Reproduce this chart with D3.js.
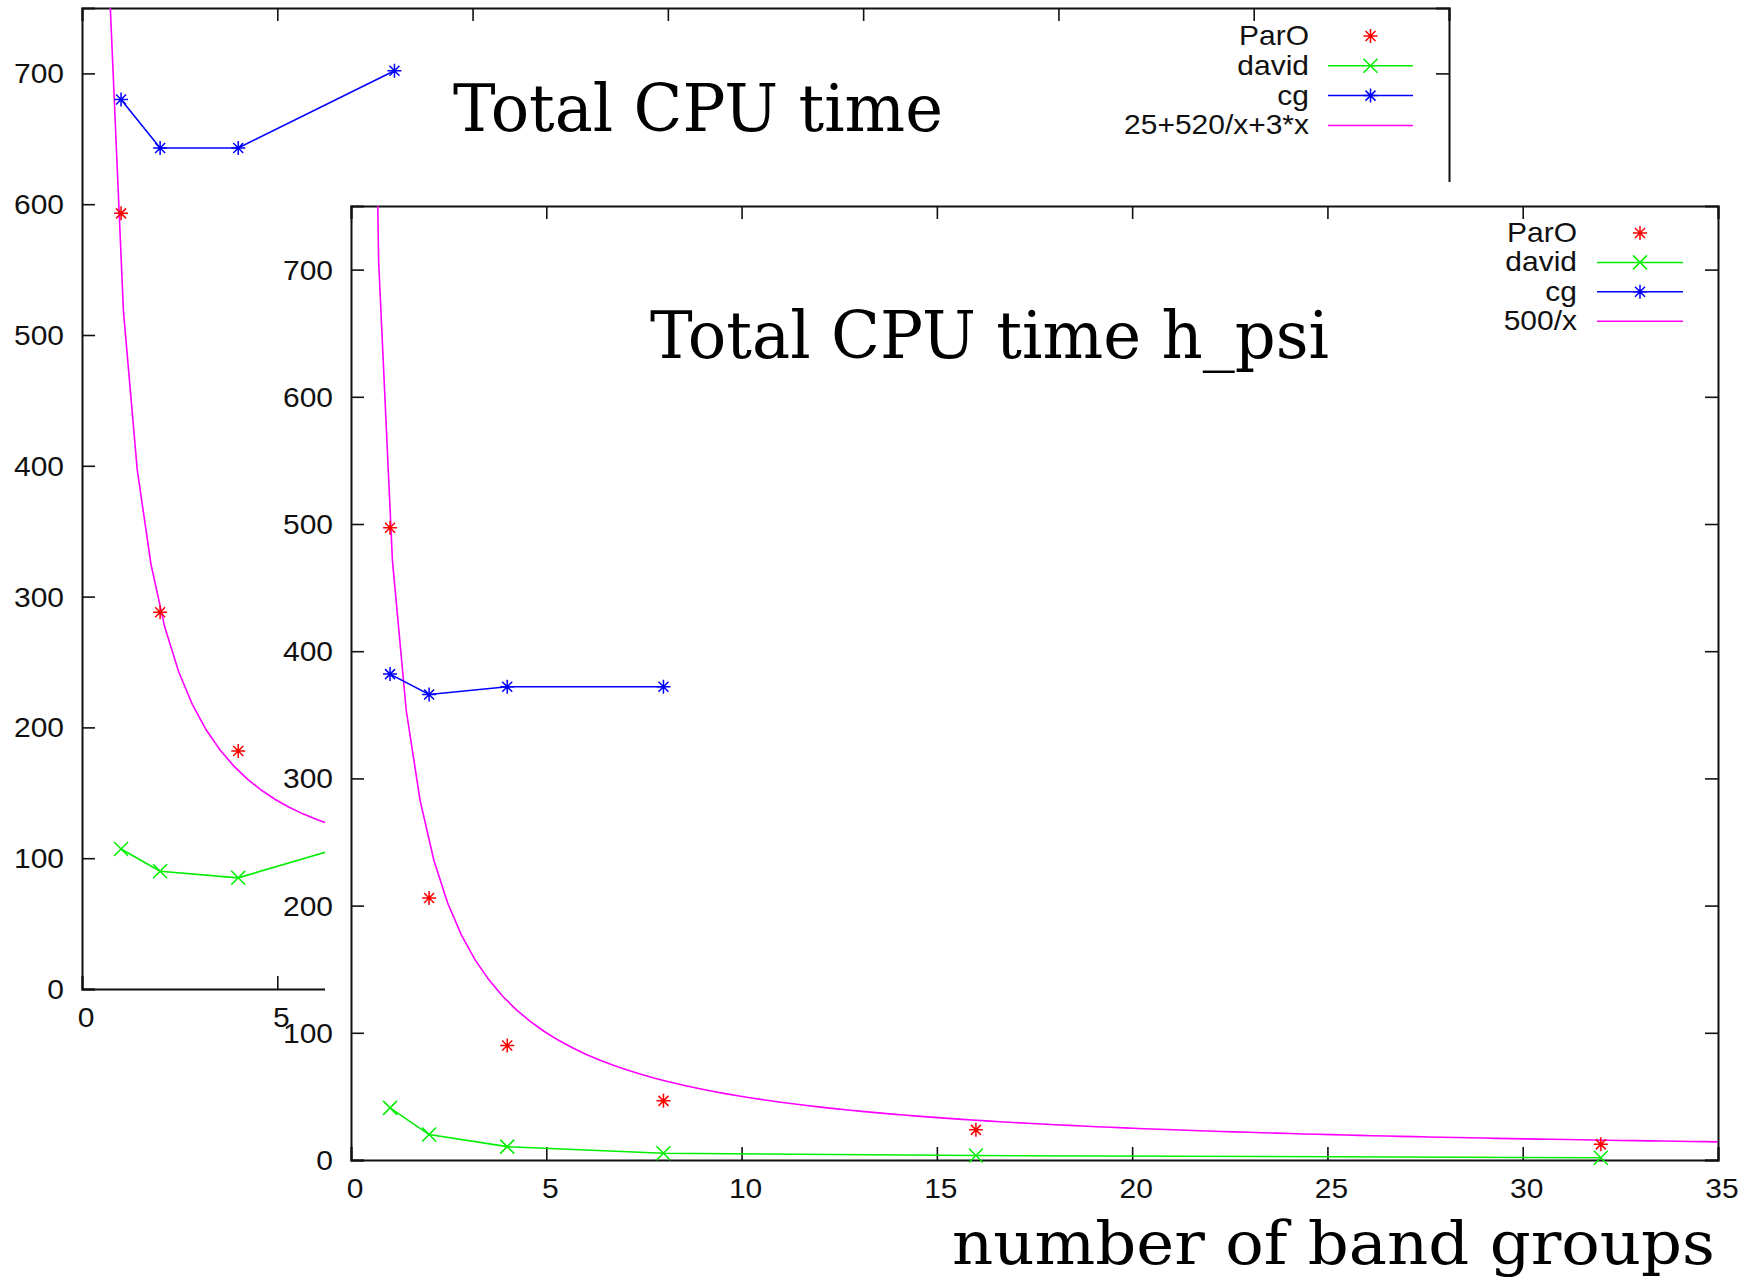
<!DOCTYPE html>
<html lang="en">
<head>
  <meta charset="UTF-8">
  <title>Total CPU time</title>
  <style>
    body{margin:0;background:#fff;}
    svg{display:block;}
    .lbl{font-family:"Liberation Sans",Arial,sans-serif;font-size:28px;fill:#111;}
    .ttl{font-family:"DejaVu Serif",serif;font-size:66px;fill:#000;}
    .xlab{font-family:"DejaVu Serif",serif;font-size:60px;fill:#000;}
  </style>
</head>
<body>
<svg width="1754" height="1284"></svg>

<script src="https://d3js.org/d3.v7.min.js"></script>
<script>
  // ticks shared by both plots
  var xTicks = [0, 5, 10, 15, 20, 25, 30, 35];
  var yTicks = [0, 100, 200, 300, 400, 500, 600, 700];

  // back plot : Total CPU time
  var bgParoX = [1, 2, 4];
  var bgParoY = [593, 288, 182];
  var bgDavidX = [1, 2, 4, 8];
  var bgDavidY = [107, 90, 85, 120];
  var bgCgX = [1, 2, 4, 8];
  var bgCgY = [680, 643, 643, 702];
  var bgLegend = ['ParO', 'david', 'cg', '25+520/x+3*x'];

  // front plot : Total CPU time h_psi
  var fgParoX = [1, 2, 4, 8, 16, 32];
  var fgParoY = [497, 206, 90, 46.5, 23.7, 12.3];
  var fgDavidX = [1, 2, 4, 8, 16, 32];
  var fgDavidY = [41, 20, 10.5, 5.3, 3.5, 1.8];
  var fgCgX = [1, 2, 4, 8];
  var fgCgY = [382, 366, 372, 372];
  var fgLegend = ['ParO', 'david', 'cg', '500/x'];

  // fitted curves, sampled like gnuplot does (100 samples over the x range)
  var samples = 100;
  var bgFit = function (x) { return 25 + 520 / x + 3 * x; };
  var fgFit = function (x) { return 500 / x; };

  var colors = {paro: '#ff0000', david: '#00ee00', cg: '#0000ff', fit: '#ff00ff'};
  var starPath = 'M-7,0H7M0,-7V7M-5,-5L5,5M-5,5L5,-5';
  var crossPath = 'M-7,-7L7,7M-7,7L7,-7';

  var svg = d3.select('svg');

  function zip(xs, ys) {
    return xs.map(function (x, i) { return {x: x, y: ys[i]}; });
  }

  // the terminal font is a bit wider than Liberation Sans
  function widen(sel) {
    sel.each(function () {
      var w = this.getComputedTextLength();
      d3.select(this).attr('textLength', w * 1.07).attr('lengthAdjust', 'spacingAndGlyphs');
    });
  }

  function drawPlot(g, id, box, fit, series, legendNames, leg) {
    var x = d3.scaleLinear().domain([0, 35]).range([box.left, box.right]);
    var y = d3.scaleLinear().domain([0, 750]).range([box.bottom, box.top]);

    g.append('clipPath').attr('id', id).append('rect')
      .attr('x', box.left).attr('y', box.top)
      .attr('width', box.right - box.left).attr('height', box.bottom - box.top);

    // axes, ticks inward and mirrored
    var tl = 13;
    g.append('g').attr('transform', `translate(0,${box.bottom})`)
      .call(d3.axisTop(x).tickValues(xTicks).tickSize(tl).tickFormat(''));
    g.append('g').attr('transform', `translate(0,${box.top})`)
      .call(d3.axisBottom(x).tickValues(xTicks).tickSize(tl).tickFormat(''));
    g.append('g').attr('transform', `translate(${box.left},0)`)
      .call(d3.axisRight(y).tickValues(yTicks).tickSize(tl).tickFormat(''));
    g.append('g').attr('transform', `translate(${box.right},0)`)
      .call(d3.axisLeft(y).tickValues(yTicks).tickSize(tl).tickFormat(''));
    g.selectAll('.domain').attr('stroke', '#111').attr('stroke-width', 2);
    g.selectAll('.tick line').attr('stroke', '#111').attr('stroke-width', 1.6);

    // tick labels
    g.append('g').selectAll('text').data(yTicks).enter().append('text')
      .attr('class', 'lbl').attr('text-anchor', 'end')
      .attr('x', box.left - 18).attr('y', function (d) { return y(d) + 10; })
      .text(function (d) { return d; })
      .call(widen);
    g.append('g').selectAll('text').data(xTicks).enter().append('text')
      .attr('class', 'lbl').attr('text-anchor', 'middle')
      .attr('x', function (d) { return x(d) + 4; }).attr('y', box.bottom + 38)
      .text(function (d) { return d; })
      .call(widen);

    var line = d3.line().x(function (d) { return x(d.x); }).y(function (d) { return y(d.y); });
    var plot = g.append('g');

    // fitted function
    var fx = d3.range(samples).map(function (i) { return 35 * i / (samples - 1); })
      .filter(function (v) { return v > 0; });
    plot.append('path').datum(fx.map(function (v) { return {x: v, y: fit(v)}; }))
      .attr('clip-path', `url(#${id})`)
      .attr('d', line).attr('fill', 'none')
      .attr('stroke', colors.fit).attr('stroke-width', 1.6);

    series.forEach(function (s) {
      if (s.line) {
        plot.append('path').datum(s.pts)
          .attr('clip-path', `url(#${id})`)
          .attr('d', line).attr('fill', 'none')
          .attr('stroke', s.color).attr('stroke-width', 1.6);
      }
      plot.append('g').selectAll('path').data(s.pts).enter().append('path')
        .attr('transform', function (d) { return `translate(${x(d.x)},${y(d.y)})`; })
        .attr('d', s.mark).attr('fill', 'none')
        .attr('stroke', s.color).attr('stroke-width', 1.5);
    });

    // legend
    var rows = [
      {color: colors.paro, line: false, mark: starPath},
      {color: colors.david, line: true, mark: crossPath},
      {color: colors.cg, line: true, mark: starPath},
      {color: colors.fit, line: true, mark: null}
    ];
    var lg = g.append('g');
    rows.forEach(function (r, i) {
      var yy = leg.top + i * leg.step;
      lg.append('text').attr('class', 'lbl').attr('text-anchor', 'end')
        .attr('x', leg.textRight).attr('y', yy + 9).text(legendNames[i])
        .call(widen);
      if (r.line) {
        lg.append('line').attr('x1', leg.lineLeft).attr('x2', leg.lineRight)
          .attr('y1', yy).attr('y2', yy)
          .attr('stroke', r.color).attr('stroke-width', 1.5);
      }
      if (r.mark) {
        lg.append('path').attr('d', r.mark)
          .attr('transform', `translate(${(leg.lineLeft + leg.lineRight) / 2},${yy})`)
          .attr('fill', 'none').attr('stroke', r.color).attr('stroke-width', 1.5);
      }
    });
  }

  // back plot
  var back = svg.append('g');
  drawPlot(back, 'clipBack', {left: 82, right: 1449, top: 8, bottom: 989}, bgFit, [
    {pts: zip(bgDavidX, bgDavidY), color: colors.david, line: true, mark: crossPath},
    {pts: zip(bgCgX, bgCgY), color: colors.cg, line: true, mark: starPath},
    {pts: zip(bgParoX, bgParoY), color: colors.paro, line: false, mark: starPath}
  ], bgLegend, {top: 36, step: 29.8, textRight: 1309, lineLeft: 1328, lineRight: 1413});
  back.append('text').attr('class', 'ttl').attr('x', 453).attr('y', 131)
    .attr('textLength', 490).attr('lengthAdjust', 'spacingAndGlyphs')
    .text('Total CPU time');

  // front plot pasted over the back one
  svg.append('rect').attr('x', 325).attr('y', 182)
    .attr('width', 1754 - 325).attr('height', 1284 - 182).attr('fill', '#fff');
  var front = svg.append('g');
  drawPlot(front, 'clipFront', {left: 351, right: 1718, top: 206, bottom: 1160}, fgFit, [
    {pts: zip(fgDavidX, fgDavidY), color: colors.david, line: true, mark: crossPath},
    {pts: zip(fgCgX, fgCgY), color: colors.cg, line: true, mark: starPath},
    {pts: zip(fgParoX, fgParoY), color: colors.paro, line: false, mark: starPath}
  ], fgLegend, {top: 233, step: 29.4, textRight: 1577, lineLeft: 1597, lineRight: 1683});
  front.append('text').attr('class', 'ttl').attr('x', 650).attr('y', 358)
    .attr('textLength', 679).attr('lengthAdjust', 'spacingAndGlyphs')
    .text('Total CPU time h_psi');

  // x label
  svg.append('text').attr('class', 'xlab').attr('x', 952).attr('y', 1264)
    .attr('textLength', 763).attr('lengthAdjust', 'spacingAndGlyphs')
    .text('number of band groups');
</script>
</body>
</html>
